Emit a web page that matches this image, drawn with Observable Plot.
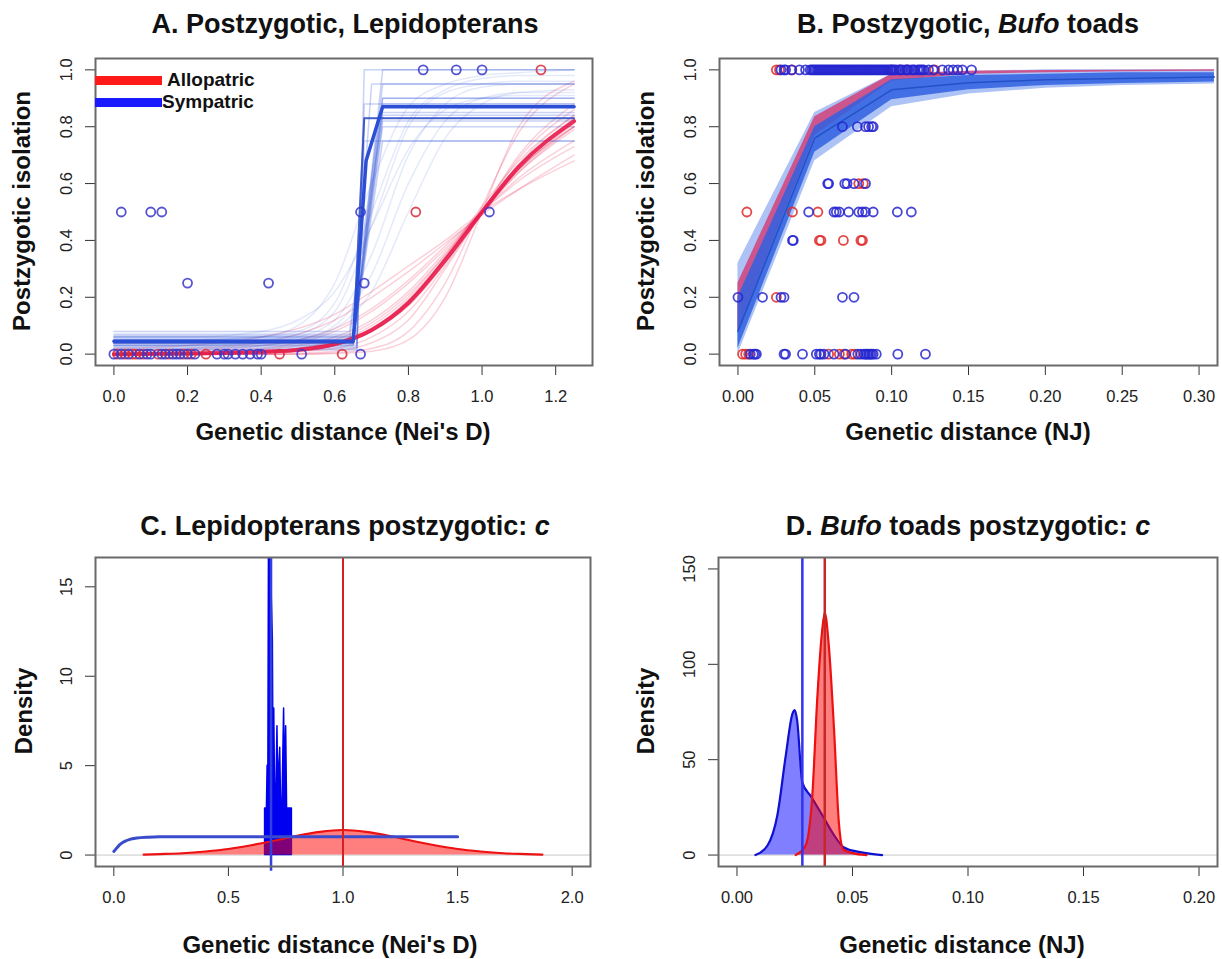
<!DOCTYPE html>
<html><head><meta charset="utf-8">
<script src="https://cdn.jsdelivr.net/npm/d3@7"></script>
<script src="https://cdn.jsdelivr.net/npm/@observablehq/plot@0.6"></script>
<style>
body{margin:0;background:#fff;font-family:"Liberation Sans",Arial,sans-serif;}
#wrap{position:relative;width:1222px;height:959px;overflow:hidden;background:#fff}
.title,.xlab,.ylab,.leg{position:absolute;white-space:nowrap;color:#111;font-weight:bold}
.title{font-size:27px;transform:translate(-50%,-50%)}
.xlab{font-size:24px;transform:translate(-50%,-50%)}
.ylab{font-size:24px;transform:translate(-50%,-50%) rotate(-90deg)}
.leg{font-size:19px;transform:translate(0,-50%)}
.sw{position:absolute;height:9px}
</style></head>
<body><div id="wrap"></div>
<script>
// ---------- Panel A data (Lepidopterans) ----------
const aCurveX = [0, 0.2, 0.4, 0.5, 0.6, 0.7, 0.8, 0.9, 1.0, 1.1, 1.25];
const aRedMain = [0, 0.002, 0.008, 0.015, 0.035, 0.085, 0.18, 0.33, 0.5, 0.66, 0.82];
const aRedDraws = [
  [0,0,0,0,0.005,0.02,0.08,0.25,0.52,0.78,0.95],
  [0,0,0,0,0.002,0.01,0.05,0.2,0.5,0.8,0.96],
  [0,0,0,0.003,0.01,0.04,0.12,0.3,0.5,0.7,0.88],
  [0,0,0.005,0.01,0.03,0.08,0.18,0.34,0.5,0.66,0.83],
  [0,0,0.01,0.02,0.04,0.1,0.2,0.35,0.51,0.65,0.8],
  [0.01,0.02,0.04,0.07,0.12,0.2,0.29,0.39,0.49,0.58,0.7],
  [0.02,0.03,0.06,0.09,0.14,0.22,0.31,0.4,0.5,0.58,0.68],
  [0,0.01,0.02,0.04,0.08,0.15,0.25,0.37,0.5,0.62,0.75],
  [0,0.005,0.015,0.03,0.06,0.12,0.22,0.36,0.5,0.64,0.79],
  [0,0,0.01,0.02,0.05,0.11,0.21,0.35,0.5,0.64,0.8],
  [0,0,0,0.01,0.03,0.08,0.18,0.34,0.52,0.68,0.84],
  [0,0,0.005,0.01,0.02,0.06,0.15,0.31,0.5,0.69,0.86],
  [0,0.005,0.01,0.02,0.04,0.09,0.19,0.34,0.5,0.65,0.81],
  [0.01,0.015,0.03,0.05,0.09,0.16,0.26,0.38,0.5,0.61,0.73],
  [0,0.002,0.008,0.016,0.036,0.088,0.19,0.34,0.5,0.65,0.8],
  [0,0.001,0.006,0.012,0.03,0.08,0.17,0.32,0.5,0.67,0.84]
];
const aBlueSmooth = [
  [0.04,0.04,0.05,0.07,0.15,0.45,0.8,0.92,0.95,0.96,0.96],
  [0.03,0.03,0.04,0.06,0.12,0.35,0.7,0.88,0.94,0.95,0.95],
  [0.05,0.05,0.06,0.1,0.25,0.6,0.87,0.95,0.98,0.99,1.0],
  [0.02,0.02,0.03,0.05,0.1,0.28,0.6,0.82,0.9,0.92,0.92],
  [0.06,0.06,0.08,0.12,0.22,0.45,0.72,0.86,0.9,0.91,0.91],
  [0.05,0.05,0.06,0.08,0.18,0.5,0.82,0.93,0.97,0.98,0.98],
  [0.03,0.03,0.04,0.05,0.09,0.22,0.5,0.76,0.88,0.92,0.93]
];
// step-shaped sympatric draws: base level, step start, step end, plateau
const aStepBase  = [0.04,0.03,0.05,0.06,0.02,0.035,0.055,0.07,0.025,0.04,0.05,0.03,0.06,0.08,0.065,0.015,0.045];
const aStepStart = [0.65,0.65,0.65,0.65,0.66,0.65,0.64,0.65,0.66,0.65,0.65,0.66,0.65,0.64,0.65,0.66,0.65];
const aStepEnd   = [0.68,0.73,0.73,0.73,0.68,0.73,0.73,0.73,0.68,0.73,0.73,0.68,0.73,0.73,0.70,0.68,0.73];
const aStepTop   = [0.83,1.0,0.95,0.9,1.0,0.88,0.85,0.82,0.83,0.8,0.75,0.75,0.87,0.9,0.95,0.88,0.84];
const aBlueMainX = [0, 0.65, 0.685, 0.73, 1.25];
const aBlueMainY = [0.045, 0.045, 0.68, 0.87, 0.87];
const aBlue2X = [0, 0.65, 0.68, 1.25];
const aBlue2Y = [0.04, 0.04, 0.83, 0.83];
const aAlloX = [0.01,0.03,0.05,0.06,0.08,0.12,0.15,0.19,0.21,0.25,0.45,0.62, 0.82, 1.16];
const aAlloY = [0,0,0,0,0,0,0,0,0,0,0,0, 0.5, 1.0];
const aSympX = [0.0,0.02,0.04,0.07,0.09,0.1,0.13,0.14,0.16,0.17,0.18,0.2,0.22,0.28,0.3,0.31,0.33,0.35,0.37,0.39,0.4,0.51,0.67,
                0.2,0.42,0.68, 0.02,0.1,0.13,0.67,1.02, 0.84,0.93,1.0];
const aSympY = [0,0,0,0,0,0,0,0,0,0,0,0,0,0,0,0,0,0,0,0,0,0,0,
                0.25,0.25,0.25, 0.5,0.5,0.5,0.5,0.5, 1,1,1];
const aXTicks = [0, 0.2, 0.4, 0.6, 0.8, 1.0, 1.2];
const propTicks = [0, 0.2, 0.4, 0.6, 0.8, 1.0];

// ---------- Panel B data (Bufo toads) ----------
const bCurveX = [0, 0.05, 0.1, 0.15, 0.2, 0.25, 0.31];
const bBlueOuterLo = [0.00, 0.68, 0.87, 0.915, 0.935, 0.945, 0.95];
const bBlueOuterHi = [0.32, 0.85, 0.985, 0.995, 1.0, 1.0, 1.0];
const bRedLo = [0.08, 0.77, 0.96, 0.985, 0.99, 0.993, 0.995];
const bRedHi = [0.25, 0.835, 0.985, 0.995, 0.998, 0.999, 1.0];
const bBlueInnerLo = [0.02, 0.71, 0.895, 0.93, 0.945, 0.952, 0.957];
const bBlueInnerHi = [0.2, 0.8, 0.965, 0.98, 0.985, 0.99, 0.99];
const bBlueCenter = [0.08, 0.76, 0.93, 0.955, 0.965, 0.97, 0.975];
const bBlueX = [
  0.008,0.01,0.011,0.012,0.03,0.031,0.042,0.051,0.053,0.054,0.056,0.0625,0.07,0.078,0.08,0.082,0.083,0.084,0.085,0.086,0.087,0.088,0.09,0.104,0.122,
  0.0,0.016,0.028,0.03,0.068,0.0755,
  0.0355,0.036,
  0.046,0.0625,0.064,0.066,0.072,0.0786,0.081,0.083,0.088,0.1037,0.1128,
  0.0584,0.059,0.0695,0.071,0.0755,0.083,
  0.068,0.0777,0.083,0.085,0.087,0.088,
  0.028,0.030,0.031,0.035,0.040,0.044,0.047,0.049,0.051,0.052,0.053,0.055,0.056,0.057,0.059,0.061,0.062,0.063,0.065,0.067,0.068,0.069,0.071,0.073,0.074,
  0.075,0.077,0.078,0.079,0.081,0.082,0.083,0.085,0.086,0.087,0.089,0.091,0.092,0.093,0.095,0.096,0.097,0.099,0.101,0.103,0.105,0.107,0.109,0.111,
  0.113,0.115,0.117,0.119,0.121,0.124,0.127,0.133,0.137,0.14,0.143,0.146,0.152,
  0.048,0.050,0.054,0.058,0.060,0.064,0.066,0.070,0.072,0.076,0.080,0.084,0.088,0.090,0.094,0.098,0.100,0.102,0.106,0.110,0.114,0.118,0.120
];
const bBlueY = [
  0,0,0,0,0,0,0,0,0,0,0,0,0,0,0,0,0,0,0,0,0,0,0,0,0,
  0.2,0.2,0.2,0.2,0.2,0.2,
  0.4,0.4,
  0.5,0.5,0.5,0.5,0.5,0.5,0.5,0.5,0.5,0.5,0.5,
  0.6,0.6,0.6,0.6,0.6,0.6,
  0.8,0.8,0.8,0.8,0.8,0.8,
  1,1,1,1,1,1,1,1,1,1,1,1,1,1,1,1,1,1,1,1,1,1,1,1,1,
  1,1,1,1,1,1,1,1,1,1,1,1,1,1,1,1,1,1,1,1,1,1,1,1,
  1,1,1,1,1,1,1,1,1,1,1,1,1,
  1,1,1,1,1,1,1,1,1,1,1,1,1,1,1,1,1,1,1,1,1,1,1
];
const bRedX = [0.003,0.005,0.007,0.059,0.066,0.069,0.074,0.076, 0.025, 0.053,0.054,0.0686,0.08,0.081, 0.0058,0.0355,0.052, 0.0786,0.0816, 0.025,0.027,0.035,0.1,0.105,0.11,0.128];
const bRedY = [0,0,0,0,0,0,0,0, 0.2, 0.4,0.4,0.4,0.4,0.4, 0.5,0.5,0.5, 0.6,0.6, 1,1,1,1,1,1,1];
const bXTicks = [0, 0.05, 0.1, 0.15, 0.2, 0.25, 0.3];

// ---------- Panel C data (Lepidopterans c) ----------
const cRedX = [0.13,0.2,0.3,0.4,0.5,0.6,0.7,0.8,0.9,1.0,1.1,1.2,1.3,1.4,1.5,1.6,1.7,1.8,1.87];
const cRedY = [0.02,0.05,0.1,0.2,0.34,0.55,0.8,1.08,1.3,1.4,1.3,1.08,0.8,0.55,0.34,0.2,0.1,0.05,0.02];
const cSpikeX = [0.66,0.66,0.668,0.671,0.674,0.677,0.682,0.694,0.697,0.700,0.704,0.710,0.714,0.718,0.722,0.726,0.730,0.736,0.743,0.747,0.752,0.756,0.760,0.777,0.777];
const cSpikeY = [0,2.6,2.6,5,2.6,18,18,12,4,8.2,3,4,7.2,3,5,6,2.6,3,8.2,4,7.2,2.6,2.6,2.6,0];
const cPriorX = [0, 0.01, 0.02, 0.03, 0.05, 0.07, 0.1, 0.15, 0.2, 1.5];
const cPriorY = [0.2, 0.35, 0.5, 0.62, 0.78, 0.88, 0.95, 1.0, 1.02, 1.02];
const cLineRed = 1.0, cLineBlue = 0.686;
const cXTicks = [0, 0.5, 1.0, 1.5, 2.0];
const cYTicks = [0, 5, 10, 15];

// ---------- Panel D data (Bufo c) ----------
const dBlueX = [0.008,0.0132,0.0175,0.0211,0.024,0.025,0.026,0.0283,0.0319,0.0369,0.042,0.0463,0.0534,0.0628];
const dBlueY = [0,5,21,52,74,76,71,38,31,21,10.5,4,1.5,0];
const dRedX = [0.0254,0.0297,0.0326,0.0348,0.0369,0.038,0.0398,0.042,0.0441,0.046,0.05,0.056];
const dRedY = [0,5,31,83,118,127,109,66,17,3,1,0];
const dLineBlue = 0.0283, dLineRed = 0.038;
const dXTicks = [0, 0.05, 0.1, 0.15, 0.2];
const dYTicks = [0, 50, 100, 150];

// ---------- helpers ----------
const BLUE = "#2a4fd6", RED = "#e8194a";
const wrap = document.getElementById("wrap");
const zip = (xs, ys) => xs.map((x, i) => ({x, y: ys[i]}));
const draws = (xs, list) => list.flatMap((ys, k) => ys.map((y, i) => ({x: xs[i], y, k})));
const band = (xs, lo, hi) => xs.map((x, i) => ({x, lo: lo[i], hi: hi[i]}));

function place(svg, left, top) {
  svg.style.position = "absolute";
  svg.style.left = left + "px";
  svg.style.top = top + "px";
  wrap.appendChild(svg);
}
function addText(cls, html, x, y) {
  const d = document.createElement("div");
  d.className = cls; d.innerHTML = html;
  d.style.left = x + "px"; d.style.top = y + "px";
  wrap.appendChild(d);
}
function axes(xt, xf, yt, yf) {
  return [
    Plot.axisX({ticks: xt, tickFormat: xf, tickSize: 10, tickPadding: 15, fontSize: 16.5, label: null, stroke: "#333", fill: "#222"}),
    Plot.axisY({ticks: yt, tickFormat: yf, tickSize: 10, tickPadding: 14, tickRotate: -90, fontSize: 16.5, label: null, stroke: "#333", fill: "#222"}),
    Plot.frame({stroke: "#6a6a6a", strokeWidth: 2})
  ];
}
const common = {style: {fontFamily: "Liberation Sans, Arial, sans-serif", background: "transparent", overflow: "visible", color: "#222"}};

// ---------- Panel A ----------
const aSteps = aStepBase.flatMap((b, k) => [
  {x: 0, y: b, k}, {x: aStepStart[k], y: b, k}, {x: aStepEnd[k], y: aStepTop[k], k}, {x: 1.25, y: aStepTop[k], k}
]);
place(Plot.plot({
  ...common, width: 611, height: 480, marginLeft: 95, marginRight: 19, marginTop: 58, marginBottom: 115,
  x: {domain: [-0.05, 1.30]}, y: {domain: [-0.04, 1.04]},
  marks: [
    Plot.line(draws(aCurveX, aRedDraws), {x: "x", y: "y", z: "k", stroke: RED, strokeOpacity: 0.2, strokeWidth: 1.5, curve: "monotone-x"}),
    Plot.line(draws(aCurveX, aBlueSmooth), {x: "x", y: "y", z: "k", stroke: BLUE, strokeOpacity: 0.12, strokeWidth: 1.5, curve: "monotone-x"}),
    Plot.line(aSteps, {x: "x", y: "y", z: "k", stroke: BLUE, strokeOpacity: 0.25, strokeWidth: 1.5}),
    Plot.line(zip(aCurveX, aRedMain), {x: "x", y: "y", stroke: RED, strokeOpacity: 0.9, strokeWidth: 4, curve: "monotone-x"}),
    Plot.line(zip(aBlue2X, aBlue2Y), {x: "x", y: "y", stroke: "#2a48c0", strokeOpacity: 0.8, strokeWidth: 2}),
    Plot.line(zip(aBlueMainX, aBlueMainY), {x: "x", y: "y", stroke: BLUE, strokeWidth: 3.5}),
    Plot.dot(zip(aAlloX, aAlloY), {x: "x", y: "y", r: 4.5, stroke: "#d62a3a", strokeWidth: 1.8, strokeOpacity: 0.85}),
    Plot.dot(zip(aSympX, aSympY), {x: "x", y: "y", r: 4.5, stroke: "#3a36c8", strokeWidth: 1.8, strokeOpacity: 0.85}),
    ...axes(aXTicks, d3.format(".1f"), propTicks, d3.format(".1f"))
  ]
}), 0, 0);

// ---------- Panel B ----------
place(Plot.plot({
  ...common, width: 611, height: 480, marginLeft: 108, marginRight: 5, marginTop: 58, marginBottom: 115,
  x: {domain: [-0.012, 0.312]}, y: {domain: [-0.04, 1.04]},
  marks: [
    Plot.areaY(band(bCurveX, bBlueOuterLo, bBlueOuterHi), {x: "x", y1: "lo", y2: "hi", fill: "#4a78e8", fillOpacity: 0.45}),
    Plot.areaY(band(bCurveX, bRedLo, bRedHi), {x: "x", y1: "lo", y2: "hi", fill: "#d8306a", fillOpacity: 0.75}),
    Plot.areaY(band(bCurveX, bBlueInnerLo, bBlueInnerHi), {x: "x", y1: "lo", y2: "hi", fill: "#2f62e0", fillOpacity: 0.85}),
    Plot.line(zip(bCurveX, bBlueCenter), {x: "x", y: "y", stroke: "#2450c8", strokeWidth: 1.5}),
    Plot.dot(zip(bRedX, bRedY), {x: "x", y: "y", r: 4.5, stroke: "#e02828", strokeWidth: 1.8, strokeOpacity: 0.85}),
    Plot.dot(zip(bBlueX, bBlueY), {x: "x", y: "y", r: 4.5, stroke: "#2626d0", strokeWidth: 1.8, strokeOpacity: 0.85}),
    ...axes(bXTicks, d3.format(".2f"), propTicks, d3.format(".1f"))
  ]
}), 611, 0);

// ---------- Panel C ----------
place(Plot.plot({
  ...common, width: 611, height: 479, marginLeft: 95, marginRight: 21, marginTop: 77, marginBottom: 93,
  x: {domain: [-0.08, 2.08]}, y: {domain: [-0.64, 16.64]},
  marks: [
    Plot.ruleY([0], {stroke: "#c8c8c8", strokeWidth: 1}),
    Plot.areaY(zip(cSpikeX, cSpikeY), {x: "x", y: "y", fill: "#0000f0", stroke: "#0000f0", strokeWidth: 1.5, clip: true}),
    Plot.areaY(zip(cRedX, cRedY), {x: "x", y: "y", fill: "#ff0000", fillOpacity: 0.5, curve: "monotone-x"}),
    Plot.line(zip(cRedX, cRedY), {x: "x", y: "y", stroke: "#ee1111", strokeWidth: 2.2, curve: "monotone-x"}),
    Plot.line(zip(cPriorX, cPriorY), {x: "x", y: "y", stroke: "#3a4ccc", strokeWidth: 3, curve: "monotone-x"}),
    Plot.ruleX([cLineRed], {stroke: "#d42020", strokeWidth: 2}),
    Plot.ruleX([cLineBlue], {stroke: "#3340dd", strokeWidth: 2.5, y1: -0.9, y2: 16.64, clip: false}),
    ...axes(cXTicks, d3.format(".1f"), cYTicks, d3.format("d"))
  ]
}), 0, 480);

// ---------- Panel D ----------
place(Plot.plot({
  ...common, width: 611, height: 479, marginLeft: 107, marginRight: 5, marginTop: 77, marginBottom: 93,
  x: {domain: [-0.008, 0.208]}, y: {domain: [-6, 156]},
  marks: [
    Plot.ruleY([0], {stroke: "#c8c8c8", strokeWidth: 1}),
    Plot.areaY(zip(dBlueX, dBlueY), {x: "x", y: "y", fill: "#0000ff", fillOpacity: 0.5, curve: "monotone-x"}),
    Plot.line(zip(dBlueX, dBlueY), {x: "x", y: "y", stroke: "#1010d0", strokeWidth: 2.2, curve: "monotone-x"}),
    Plot.areaY(zip(dRedX, dRedY), {x: "x", y: "y", fill: "#ff0000", fillOpacity: 0.5, curve: "monotone-x"}),
    Plot.line(zip(dRedX, dRedY), {x: "x", y: "y", stroke: "#ee1010", strokeWidth: 2.2, curve: "monotone-x"}),
    Plot.ruleX([dLineBlue], {stroke: "#3333ee", strokeWidth: 2.5}),
    Plot.ruleX([dLineRed], {stroke: "#c42828", strokeWidth: 2.5}),
    ...axes(dXTicks, d3.format(".2f"), dYTicks, d3.format("d"))
  ]
}), 611, 480);

// ---------- text ----------
addText("title", "A. Postzygotic, Lepidopterans", 345, 24);
addText("title", "B. Postzygotic, <i>Bufo</i> toads", 968, 24);
addText("title", "C. Lepidopterans postzygotic: <i>c</i>", 345, 526);
addText("title", "D. <i>Bufo</i> toads postzygotic: <i>c</i>", 968, 526);
addText("xlab", "Genetic distance (Nei's D)", 343, 432);
addText("xlab", "Genetic distance (NJ)", 968, 432);
addText("xlab", "Genetic distance (Nei's D)", 330, 945);
addText("xlab", "Genetic distance (NJ)", 962, 945);
addText("ylab", "Postzygotic isolation", 22, 211);
addText("ylab", "Postzygotic isolation", 646, 211);
addText("ylab", "Density", 24, 711);
addText("ylab", "Density", 646, 711);
// legend
[["#ff1a1a", "Allopatric", 80, 167], ["#1a1aff", "Sympatric", 102, 162]].forEach(([c, t, y, tx]) => {
  const s = document.createElement("div");
  s.className = "sw"; s.style.background = c; s.style.left = "95px"; s.style.width = "67px"; s.style.top = (y - 4.5) + "px";
  wrap.appendChild(s);
  addText("leg", t, tx, y);
});
</script></body></html>
